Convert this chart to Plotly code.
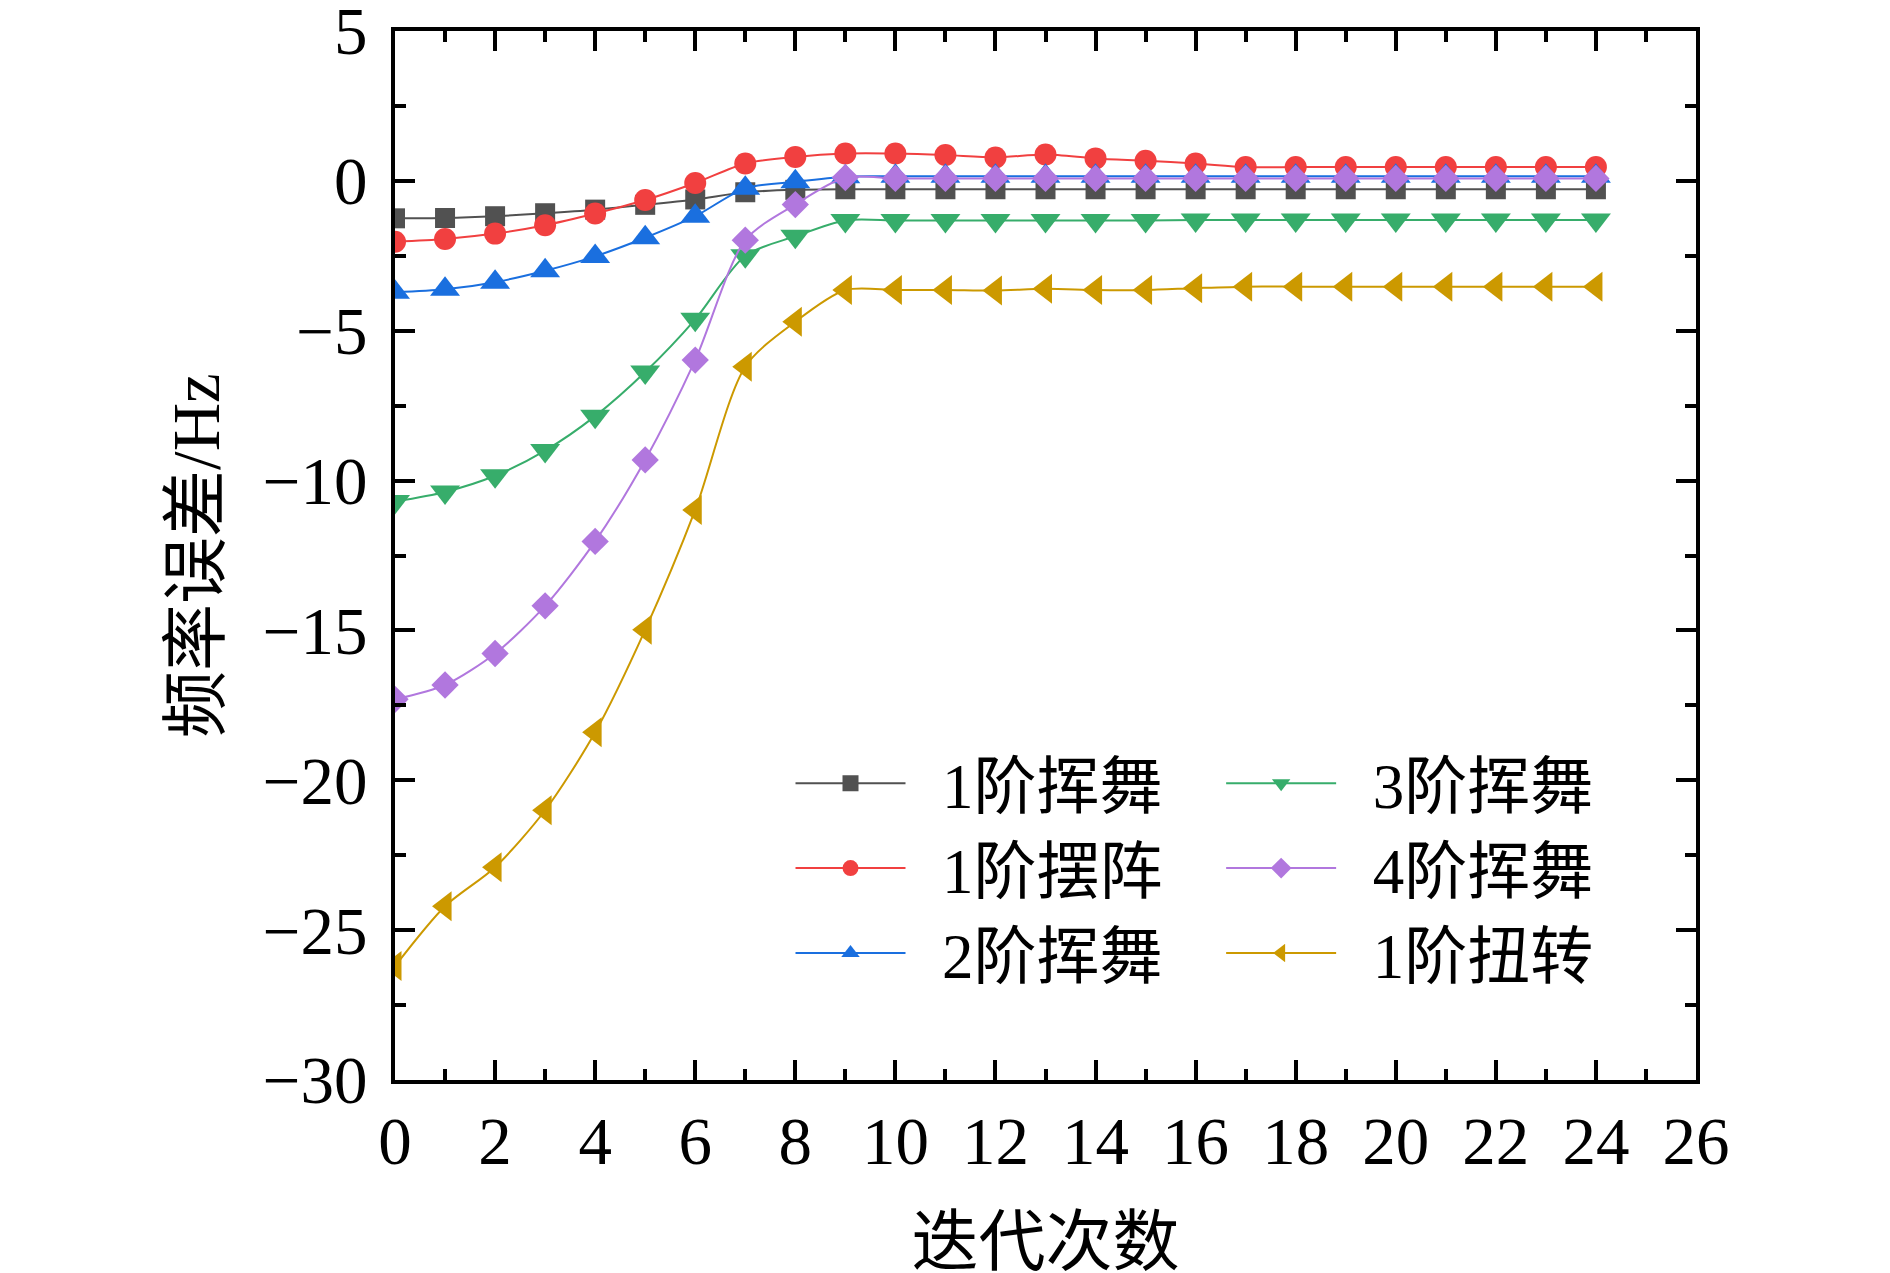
import plotly.graph_objects as go

# iteration count (x axis)
iters = list(range(25))

# frequency error / Hz
err_1st_flap = [-1.25, -1.24, -1.18, -1.08, -0.96, -0.80, -0.62, -0.38, -0.30, -0.28,
                -0.28, -0.28, -0.28, -0.28, -0.28, -0.28, -0.28, -0.28, -0.28, -0.28,
                -0.28, -0.28, -0.28, -0.28, -0.28]
err_1st_lag = [-2.03, -1.94, -1.76, -1.48, -1.09, -0.64, -0.07, 0.58, 0.80, 0.91,
               0.91, 0.86, 0.78, 0.88, 0.75, 0.67, 0.58, 0.46, 0.46, 0.46,
               0.46, 0.46, 0.46, 0.46, 0.46]
err_2nd_flap = [-3.72, -3.62, -3.38, -3.00, -2.52, -1.90, -1.18, -0.25, -0.03, 0.14,
                0.15, 0.15, 0.15, 0.15, 0.15, 0.15, 0.15, 0.15, 0.15, 0.15,
                0.15, 0.15, 0.15, 0.15, 0.15]
err_3rd_flap = [-10.70, -10.38, -9.84, -9.00, -7.85, -6.38, -4.62, -2.50, -1.85, -1.32,
                -1.32, -1.32, -1.32, -1.32, -1.32, -1.32, -1.31, -1.31, -1.31, -1.31,
                -1.31, -1.31, -1.31, -1.31, -1.31]
err_4th_flap = [-17.30, -16.82, -15.77, -14.18, -12.03, -9.31, -5.98, -1.98, -0.79, 0.11,
                0.08, 0.08, 0.08, 0.08, 0.08, 0.08, 0.08, 0.08, 0.08, 0.08,
                0.08, 0.08, 0.08, 0.08, 0.08]
err_1st_tors = [-26.20, -24.20, -22.90, -21.00, -18.40, -14.98, -10.98, -6.20, -4.70, -3.64,
                -3.64, -3.64, -3.66, -3.60, -3.64, -3.64, -3.58, -3.53, -3.53, -3.53,
                -3.53, -3.53, -3.53, -3.53, -3.53]

names = ["1阶挥舞", "1阶摆阵", "2阶挥舞", "3阶挥舞", "4阶挥舞", "1阶扭转"]
colors = ["#515151", "#F14040", "#1A6FDF", "#37AD6B", "#B177DE", "#CC9900"]
symbols = ["square", "circle", "triangle-up", "triangle-down", "diamond", "triangle-left"]
sizes = [20, 22, 26, 26, 21, 26]
legend_ids = ["legend", "legend", "legend", "legend2", "legend2", "legend2"]
series = [err_1st_flap, err_1st_lag, err_2nd_flap, err_3rd_flap, err_4th_flap, err_1st_tors]

FONT = "Liberation Serif, Noto Sans CJK SC"
FS = 67

fig = go.Figure()
for name, ys, c, s, sz, lg in zip(names, series, colors, symbols, sizes, legend_ids):
    fig.add_trace(go.Scatter(
        x=iters, y=ys, name="\u2002" + name, mode="lines+markers",
        line=dict(color=c, width=2, shape="spline", smoothing=0.8),
        marker=dict(symbol=s, size=sz, color=c, line=dict(width=0)),
        legend=lg,
    ))

axis_common = dict(
    showline=True, linecolor="black", linewidth=4, mirror="ticks",
    ticks="inside", ticklen=20, tickwidth=4, tickcolor="black",
    showgrid=False, zeroline=False, ticklabeloverflow="allow",
    tickfont=dict(family=FONT, size=FS, color="black"),
)

fig.update_xaxes(
    range=[0, 26], dtick=2, tick0=0,
    minor=dict(ticks="inside", ticklen=11, tickwidth=4, dtick=1, tickcolor="black"),
    title=dict(text="迭代次数", font=dict(family=FONT, size=FS, color="black"), standoff=42),
    ticklabelstandoff=0,
    **axis_common,
)
fig.update_yaxes(
    range=[-30, 5], dtick=5, tick0=0,
    minor=dict(ticks="inside", ticklen=11, tickwidth=4, dtick=2.5, tickcolor="black"),
    title=dict(text="频率误差/Hz", font=dict(family=FONT, size=FS, color="black"), standoff=22),
    ticklabelstandoff=10,
    **axis_common,
)

legend_common = dict(
    orientation="v", y=0.3282, xanchor="left", yanchor="top",
    itemwidth=110, tracegroupgap=0,
    font=dict(family=FONT, size=63, color="black"),
    bgcolor="rgba(0,0,0,0)",
)

fig.update_layout(
    width=1890, height=1273,
    margin=dict(l=387, r=202, t=23, b=201, autoexpand=False),
    plot_bgcolor="white", paper_bgcolor="white",
    legend=dict(x=0.304, **legend_common),
    legend2=dict(x=0.635, **legend_common),
)

fig.write_html("out.html")
